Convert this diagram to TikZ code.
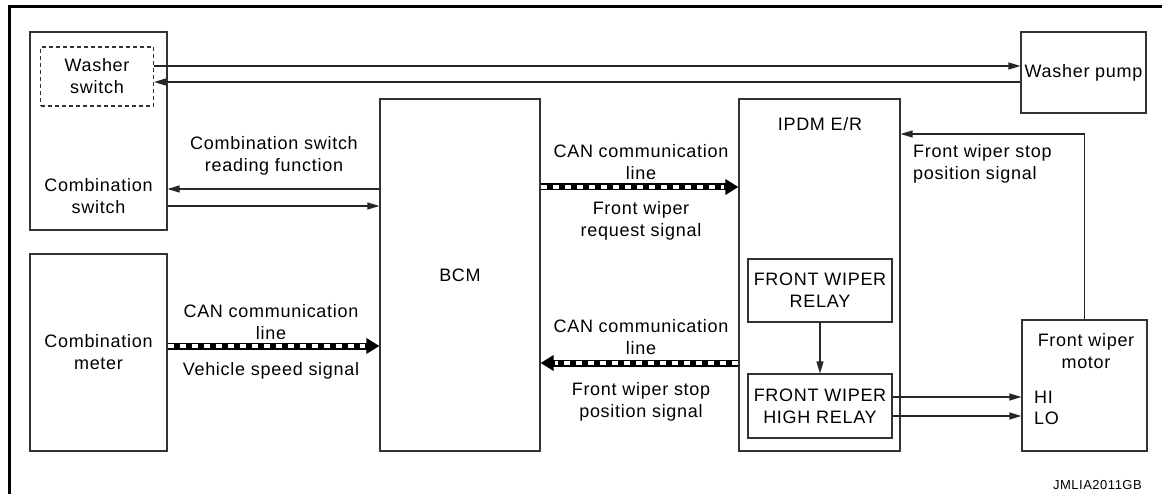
\documentclass[tikz,border=0pt]{standalone}
\usepackage{fontspec}
\setmainfont[LetterSpace=4]{Liberation Sans}
\usetikzlibrary{arrows.meta}
\begin{document}
\begin{tikzpicture}[x=1pt,y=-1pt,
  every node/.style={font=\fontsize{18}{22}\selectfont, inner sep=0pt},
  box/.style={draw=black!80, line width=1.1pt, rectangle, align=center},
  dbox/.style={box, dashed, dash pattern=on 4pt off 3pt},
  lbl/.style={align=center},
  arr/.style={draw=black!85, line width=1.1pt, -{Triangle[length=12pt,width=7pt]}},
  canbar/.style={line width=7pt, draw=black, -{Triangle[length=13pt,width=15pt]},
    postaction={draw=white, line width=3.5pt, dash pattern=on 6pt off 6pt, shorten >=14pt, -}}
]
\useasboundingbox (0,0) rectangle (1162,494);
% frame
\draw[line width=3pt] (9,494) -- (9,7) -- (1162,7);

% boxes
\node[box, minimum width=137pt, minimum height=198pt] (cswitch) at (98.5,131) {};
\node[dbox, minimum width=113pt, minimum height=59pt] (wswitch) at (97,76.5) {Washer\\switch};
\node[lbl] (cswitchlbl) at (98.5,196) {Combination\\switch};
\node[box, minimum width=125pt, minimum height=81pt] (wpump) at (1083.5,72.5) {Washer pump};
\node[box, minimum width=137pt, minimum height=197pt] (cmeter) at (98.5,352.5) {Combination\\meter};
\node[box, minimum width=160pt, minimum height=352pt] (bcm) at (460,275) {BCM};
\node[box, minimum width=161pt, minimum height=352pt] (ipdm) at (819.5,275) {};
\node[lbl] (ipdmlbl) at (820,124) {IPDM E/R};
\node[box, minimum width=144pt, minimum height=63pt] (fwr) at (820,290.5) {FRONT WIPER\\RELAY};
\node[box, minimum width=144pt, minimum height=64pt] (fwhr) at (820,406) {FRONT WIPER\\HIGH RELAY};
\node[box, minimum width=125pt, minimum height=131pt] (motor) at (1084.5,385.5) {};
\node[lbl] (motorlbl) at (1086,351) {Front wiper\\motor};
\node[anchor=west] (hi) at (1034,397) {HI};
\node[anchor=west] (lo) at (1034,418) {LO};

% washer connectors
\draw[arr] (wswitch.east |- 0,66) -- (wpump.west |- 0,66);
\draw[arr] (wpump.west |- 0,82) -- (wswitch.east |- 0,82);

% combination switch <-> BCM
\draw[arr] (bcm.west |- 0,189) -- (cswitch.east |- 0,189);
\draw[arr] (cswitch.east |- 0,206) -- (bcm.west |- 0,206);
\node[lbl] (csrf) at (274,156) {Combination switch\\reading function};

% CAN lines
\draw[canbar] (bcm.east |- 0,187) -- (ipdm.west |- 0,187);
\node[lbl] (can1) at (641,162) {CAN communication\\line};
\node[lbl] (req) at (641,221) {Front wiper\\request signal};

\draw[canbar] (cmeter.east |- 0,346) -- (bcm.west |- 0,346);
\node[lbl] (can2) at (271,322) {CAN communication\\line};
\node[lbl] (vss) at (271,371) {Vehicle speed signal};

\draw[canbar] (ipdm.west |- 0,363) -- (bcm.east |- 0,363);
\node[lbl] (can3) at (641,337.5) {CAN communication\\line};
\node[lbl] (fwsp) at (641,402) {Front wiper stop\\position signal};

% relays
\draw[arr] (fwr.south) -- (fwhr.north);
\draw[arr] (fwhr.east |- 0,397) -- (motor.west |- 0,397);
\draw[arr] (fwhr.east |- 0,416) -- (motor.west |- 0,416);

% stop position feedback
\draw[arr] (motor.north) |- (ipdm.east |- 0,134);
\node[lbl, anchor=west, align=left] (fwsp2) at (913,164) {Front wiper stop\\position signal};

\node[anchor=east, font=\fontsize{13}{15}\selectfont] (code) at (1142,485) {JMLIA2011GB};
\end{tikzpicture}
\end{document}
